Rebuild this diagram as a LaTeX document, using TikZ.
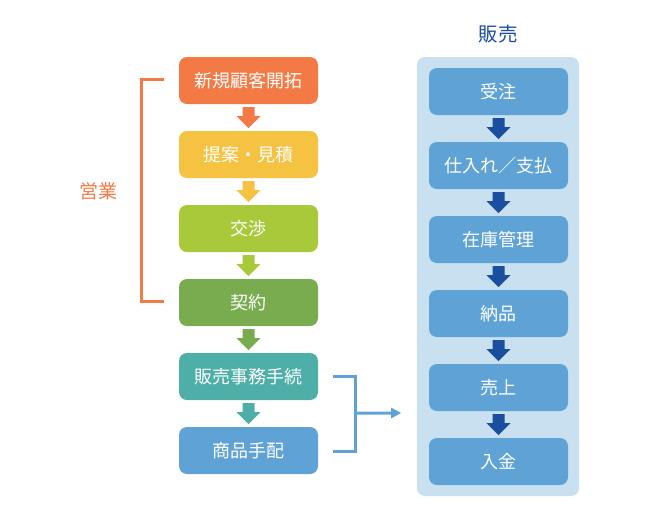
\documentclass[tikz,border=0pt]{standalone}
\usepackage{fontspec}
\newfontfamily\jp{Noto Sans CJK JP}
\usetikzlibrary{calc}
\definecolor{cOrange}{HTML}{F47A45}
\definecolor{cYellow}{HTML}{F5C242}
\definecolor{cLime}{HTML}{A8C93A}
\definecolor{cGreen}{HTML}{78AC4E}
\definecolor{cTeal}{HTML}{4EAFA8}
\definecolor{cBlue}{HTML}{5FA3D6}
\definecolor{cPanel}{HTML}{C8E0F0}
\definecolor{cDark}{HTML}{1A4FA0}
\tikzset{
  stepbox/.style={fill=#1, rounded corners=8pt, minimum width=139pt, minimum height=47pt,
    inner sep=0pt, text=white, font=\jp\fontsize{18pt}{20pt}\selectfont},
  darr/.pic={\fill[pic actions] (-6,-10.5) -- (6,-10.5) -- (6,-1.5) -- (12,-1.5) -- (0,10.5) -- (-12,-1.5) -- (-6,-1.5) -- cycle;},
  bracket/.style={line width=3pt}
}
\begin{document}
\begin{tikzpicture}[x=1pt,y=-1pt]
\useasboundingbox (0,0) rectangle (670,520);
% left column
\node[stepbox=cOrange] (a1) at (248.5,80.5) {新規顧客開拓};
\node[stepbox=cYellow] (a2) at (248.5,154.5) {提案・見積};
\node[stepbox=cLime] (a3) at (248.5,228.5) {交渉};
\node[stepbox=cGreen] (a4) at (248.5,302.5) {契約};
\node[stepbox=cTeal] (a5) at (248.5,376.5) {販売事務手続};
\node[stepbox=cBlue] (a6) at (248.5,450.5) {商品手配};
\path ($(a1.south)!0.5!(a2.north)$) pic[fill=cOrange] {darr};
\path ($(a2.south)!0.5!(a3.north)$) pic[fill=cYellow] {darr};
\path ($(a3.south)!0.5!(a4.north)$) pic[fill=cLime] {darr};
\path ($(a4.south)!0.5!(a5.north)$) pic[fill=cGreen] {darr};
\path ($(a5.south)!0.5!(a6.north)$) pic[fill=cTeal] {darr};
% sales bracket
\node[text=cOrange, font=\jp\fontsize{19pt}{20pt}\selectfont] (sales) at (98.5,191) {営業};
\coordinate (bt) at (164,79);
\coordinate (bb) at (164,301);
\draw[bracket, cOrange] (bt) -- (141,79) -- (141,301) -- (bb);
% right panel
\fill[cPanel, rounded corners=8pt] (417,57) rectangle (579,496);
\node[text=cDark, font=\jp\fontsize{19.5pt}{20pt}\selectfont] (title) at (498,34) {販売};
\node[stepbox=cBlue] (b1) at (498.5,91.5) {受注};
\node[stepbox=cBlue] (b2) at (498.5,165.5) {仕入れ／支払};
\node[stepbox=cBlue] (b3) at (498.5,239.5) {在庫管理};
\node[stepbox=cBlue] (b4) at (498.5,313.5) {納品};
\node[stepbox=cBlue] (b5) at (498.5,387.5) {売上};
\node[stepbox=cBlue] (b6) at (498.5,461.5) {入金};
\foreach \i/\j in {1/2,2/3,3/4,4/5,5/6}{
  \path ($(b\i.south)!0.5!(b\j.north)$) pic[fill=cDark] {darr};
}
% blue bracket
\coordinate (jt) at (333,376);
\coordinate (jb) at (333,451);
\coordinate (jm) at (355,413);
\coordinate (jend) at (401,413);
\draw[bracket, cBlue] (jt) -- (355,376) -- (355,451) -- (jb);
\fill[cBlue] (jm) ++(0,-1.5) -- (391,411.5) -- (391,407.5) -- (jend) -- (391,418.5) -- (391,414.5) -- (355,414.5) -- cycle;
\end{tikzpicture}
\end{document}
